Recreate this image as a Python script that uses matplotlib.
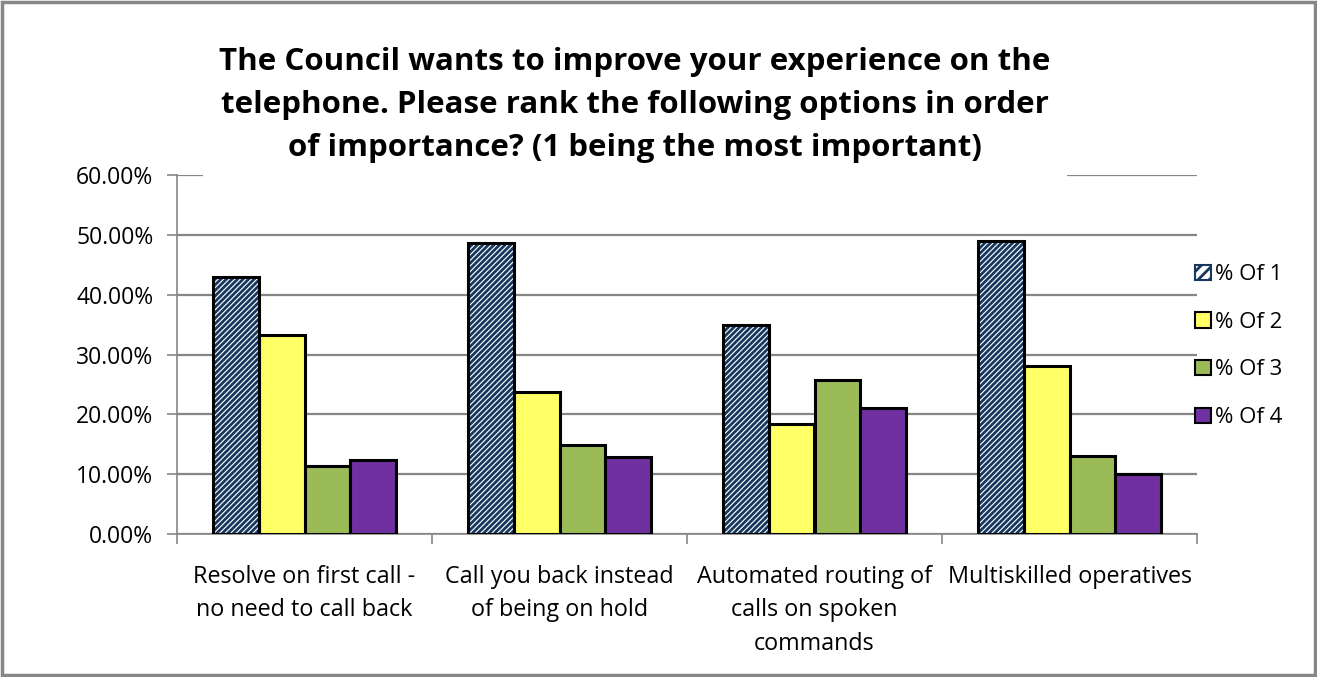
import matplotlib.pyplot as plt
import numpy as np
from matplotlib.patches import Rectangle

plt.rcParams['font.family'] = ['Open Sans', 'DejaVu Sans']
plt.rcParams['hatch.linewidth'] = 2.0
plt.rcParams['hatch.color'] = "#17375E"

categories = ["Resolve on first call -\nno need to call back",
              "Call you back instead\nof being on hold",
              "Automated routing of\ncalls on spoken\ncommands",
              "Multiskilled operatives"]
series_names = ["% Of 1", "% Of 2", "% Of 3", "% Of 4"]
pct_1 = [43.0, 48.6, 35.0, 49.0]
pct_2 = [33.3, 23.8, 18.4, 28.1]
pct_3 = [11.4, 14.9, 25.7, 13.0]
pct_4 = [12.4, 12.9, 21.0, 10.0]
y_ticks = [0, 10, 20, 30, 40, 50, 60]

W, H = 1317, 677
fig = plt.figure(figsize=(W / 100, H / 100), dpi=100)
ax = fig.add_axes([177 / W, 1 - 534 / H, 1020 / W, 359 / H])

x = np.arange(len(categories))
bw = 0.18
offsets = [-1.5, -0.5, 0.5, 1.5]
series = [pct_1, pct_2, pct_3, pct_4]
faces = ["white", "#FFFF66", "#9BBB59", "#7030A0"]
for vals, off, fc, name in zip(series, offsets, faces, series_names):
    if name == "% Of 1":
        ax.bar(x + off * bw, vals, bw, facecolor="white", edgecolor="#17375E",
               hatch="//////", linewidth=0, zorder=3)
        ax.bar(x + off * bw, vals, bw, facecolor="none", edgecolor="black",
               linewidth=2.2, zorder=4)
    else:
        ax.bar(x + off * bw, vals, bw, facecolor=fc, edgecolor="black",
               linewidth=2.2, zorder=3)

ax.set_xlim(-0.5, 3.5)
ax.set_ylim(0, 60)
ax.set_yticks(y_ticks)
ax.set_yticklabels([f"{v:.2f}%" for v in y_ticks], fontsize=16.5)
ax.yaxis.grid(True, color="#868686", linewidth=1.6, zorder=0)
ax.set_axisbelow(True)

ax.set_xticks(np.arange(-0.5, 3.6, 1.0))
ax.set_xticklabels([])
ax.set_xticks(x, minor=True)
ax.set_xticklabels(categories, minor=True, fontsize=16.8, linespacing=1.55)
ax.tick_params(axis="x", which="minor", length=0, pad=22)
ax.tick_params(axis="x", which="major", length=7, color="#868686", width=1.2)
ax.tick_params(axis="y", length=7, color="#868686", width=1.2, pad=10)

for s in ["top", "right"]:
    ax.spines[s].set_visible(False)
for s in ["left", "bottom"]:
    ax.spines[s].set_color("#868686")
    ax.spines[s].set_linewidth(1.2)

fig.text(635 / W, 1 - 105 / H,
         "The Council wants to improve your experience on the\n"
         "telephone. Please rank the following options in order\n"
         "of importance? (1 being the most important)",
         ha="center", va="center", fontsize=22.5, fontweight="bold",
         linespacing=1.58, zorder=10,
         bbox=dict(facecolor="white", edgecolor="none", pad=12))

# legend with patch proxies
proxies = [Rectangle((0, 0), 1, 1, facecolor="white", edgecolor="#17375E",
                     hatch="///", linewidth=1.5),
           Rectangle((0, 0), 1, 1, facecolor=faces[1], edgecolor="black", linewidth=1.5),
           Rectangle((0, 0), 1, 1, facecolor=faces[2], edgecolor="black", linewidth=1.5),
           Rectangle((0, 0), 1, 1, facecolor=faces[3], edgecolor="black", linewidth=1.5)]
fig.legend(proxies, series_names, loc="upper left",
           bbox_to_anchor=(1184 / W, 1 - 253 / H), frameon=False, fontsize=16,
           handlelength=0.7, handleheight=0.7, handletextpad=0.2,
           labelspacing=1.2, borderpad=0)

fig.add_artist(Rectangle((2 / W, 2 / H), 1 - 4 / W, 1 - 4 / H,
                         transform=fig.transFigure, fill=False,
                         edgecolor="#868686", linewidth=2.5))

fig.savefig("out.png", dpi=100)
